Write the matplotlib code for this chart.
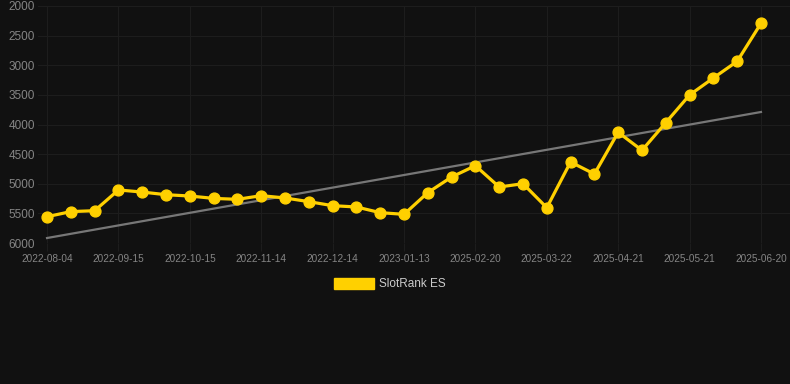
import matplotlib
matplotlib.use("Agg")
import matplotlib.pyplot as plt
from matplotlib.patches import Patch

# dates (x is categorical, one slot per snapshot)
dates = ["2022-08-04", "2022-08-18", "2022-09-01", "2022-09-15", "2022-09-25",
         "2022-10-05", "2022-10-15", "2022-10-25", "2022-11-04", "2022-11-14",
         "2022-11-24", "2022-12-04", "2022-12-14", "2022-12-24", "2023-01-03",
         "2023-01-13", "2025-01-31", "2025-02-10", "2025-02-20", "2025-03-02",
         "2025-03-12", "2025-03-22", "2025-04-01", "2025-04-11", "2025-04-21",
         "2025-05-01", "2025-05-11", "2025-05-21", "2025-05-31", "2025-06-10",
         "2025-06-20"]
rank = [5556, 5470, 5455, 5105, 5140, 5185, 5207, 5247, 5263, 5201,
        5240, 5302, 5370, 5392, 5488, 5516, 5150, 4886, 4695, 5055,
        4999, 5404, 4633, 4836, 4132, 4436, 3969, 3502, 3215, 2934,
        2293]
trend_ends = [5916, 3789]
y_ticks = [2000, 2500, 3000, 3500, 4000, 4500, 5000, 5500, 6000]

bg = "#111111"
gold = "#FFD000"
plt.rcParams["font.family"] = ["Liberation Sans", "DejaVu Sans"]

fig = plt.figure(figsize=(7.9, 3.84), dpi=100, facecolor=bg)
ax = fig.add_axes([38 / 790, 1 - 243 / 384, 752 / 790, 237 / 384], facecolor=bg)

xs = list(range(len(dates)))
ax.plot([xs[0], xs[-1]], trend_ends, color="#777777", linewidth=1.6, zorder=2)
ax.plot(xs, rank, color=gold, linewidth=2.3, marker="o", markersize=7.8,
        markerfacecolor=gold, markeredgecolor=gold, zorder=3)

ax.set_ylim(6000, 2000)
ax.set_xlim(-0.38, 31.22)
ax.set_yticks(y_ticks)
ax.set_xticks(xs[::3])
ax.set_xticklabels(dates[::3])

ax.grid(True, color="#1d1d1d", linewidth=0.8, zorder=0)
for s in ax.spines.values():
    s.set_visible(False)
ax.tick_params(axis="y", colors="#1d1d1d", labelcolor="#858585", labelsize=8.5,
               length=0, pad=2)
ax.tick_params(axis="x", colors="#1d1d1d", labelcolor="#858585", labelsize=7.2,
               length=6, pad=2)

leg = fig.legend(handles=[Patch(facecolor=gold, edgecolor=gold, label="SlotRank ES")],
                 loc="center", bbox_to_anchor=(390 / 790, 1 - 284 / 384),
                 frameon=False, fontsize=8.5, handlelength=3.4, handleheight=1.1,
                 handletextpad=0.45)
for t in leg.get_texts():
    t.set_color("#cccccc")

fig.savefig("out.png", dpi=100, facecolor=bg)
